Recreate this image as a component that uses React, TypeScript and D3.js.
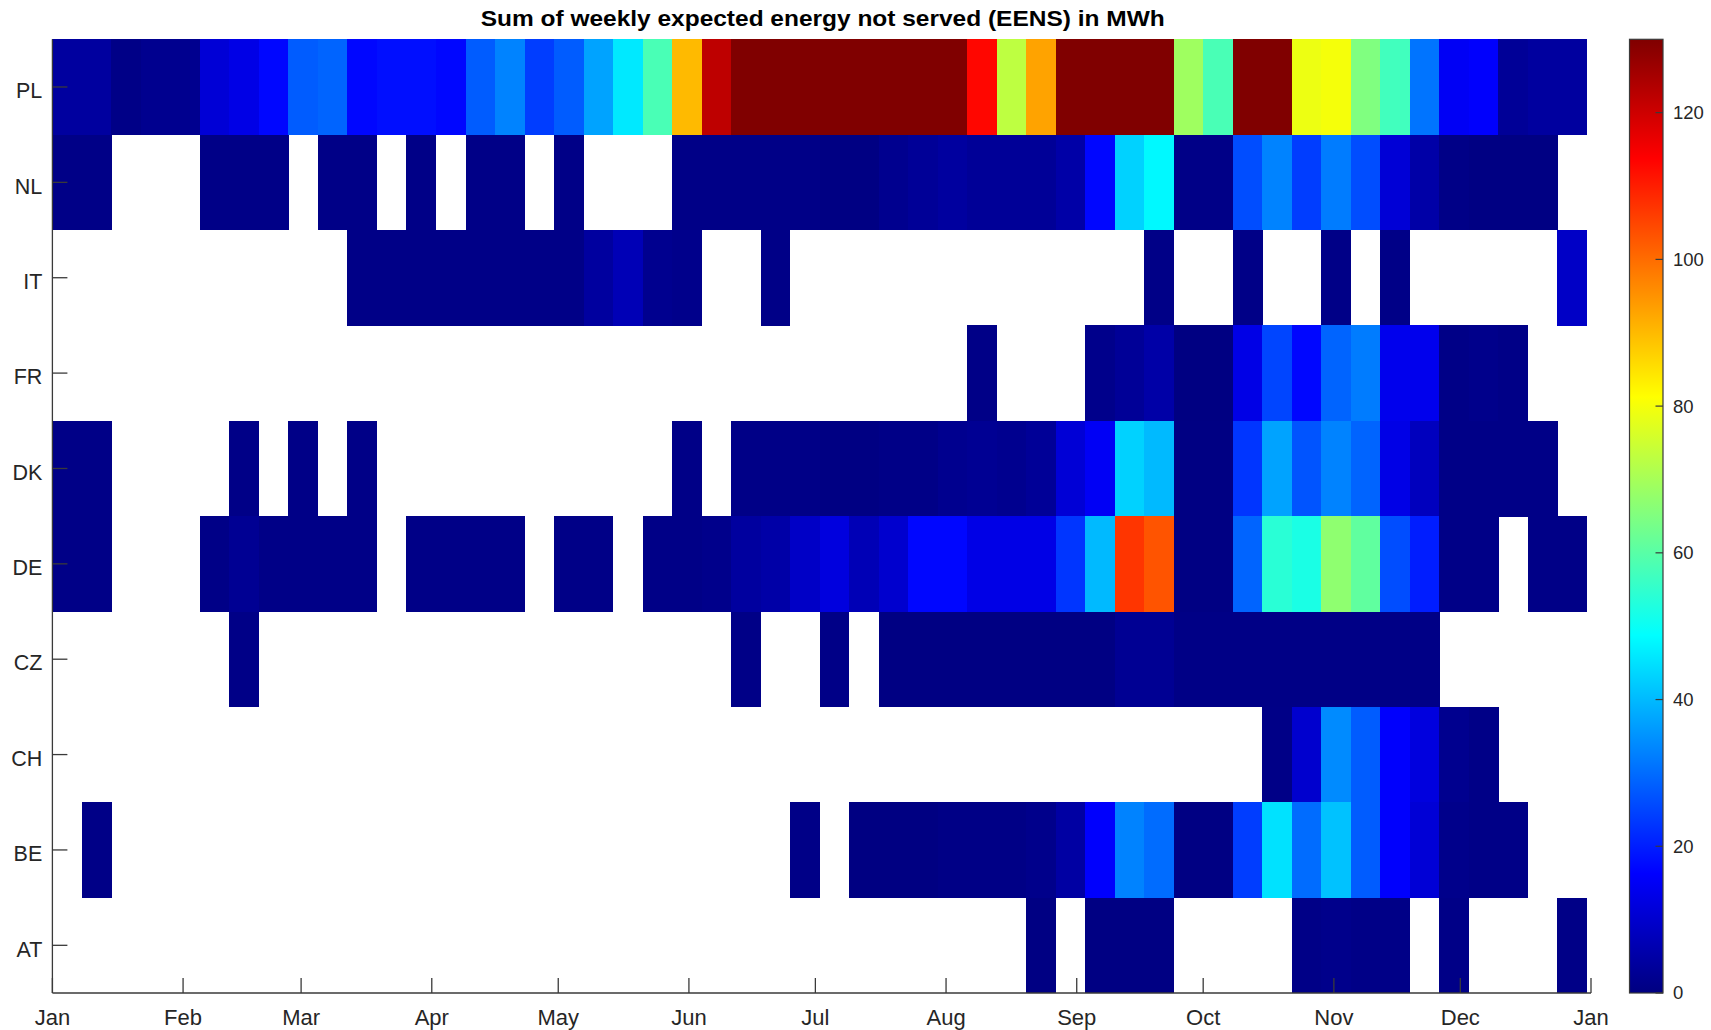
import React from 'react';
import * as d3 from 'd3';

const countries = ['PL', 'NL', 'IT', 'FR', 'DK', 'DE', 'CZ', 'CH', 'BE', 'AT'];
const _ = null;

// weekly EENS (MWh), 52 weeks, null = no value
const PL = [4, 4, 1, 2, 2, 11, 13, 17, 28, 29, 17, 18, 18, 17, 28, 33, 24, 28, 37, 46, 58, 90, 122, 130, 130, 130, 130, 130, 130, 130, 130, 113, 73, 93, 130, 130, 130, 130, 69, 58, 130, 130, 79, 80, 65, 57, 31, 15, 16, 3, 4, 4];
const NL = [1, 1, _, _, _, 1, 1, 1, _, 1, 1, _, 1, _, 1, 1, _, 1, _, _, _, 1, 1, 1, 1, 1, 0.5, 0.5, 2, 3, 4, 3, 3, 3, 5, 17, 43, 48, 1, 1, 26, 33, 24, 32, 26, 11, 5, 1, 0.5, 0.5, 0.5, _];
const IT = [_, _, _, _, _, _, _, _, _, _, 1, 1, 1, 1, 1, 1, 1, 1, 4, 7, 2, 1.5, _, _, 1, _, _, _, _, _, _, _, _, _, _, _, _, 1, _, _, 1, _, _, 1, _, 1, _, _, _, _, _, 9];
const FR = [_, _, _, _, _, _, _, _, _, _, _, _, _, _, _, _, _, _, _, _, _, _, _, _, _, _, _, _, _, _, _, 1, _, _, _, 1.5, 3, 5, 0.3, 0.3, 13, 25, 17, 29, 32, 14, 14, 1, 1.5, 1, _, _];
const DK = [1, 1, _, _, _, _, 1, _, 1, _, 1, _, _, _, _, _, _, _, _, _, _, 1, _, 1, 1, 1, 0.5, 0.5, 1, 1, 2, 2.5, 2, 3, 11, 15, 43, 40, 0.5, 0.5, 23, 37, 27, 33, 29, 13, 8, 1, 1, 1, 1, _];
const DE = [1, 1, _, _, _, 1, 2.5, 1, 1, 1, 1, _, 1, 1, 1, 1, _, 1, 1, _, 1, 1, 1.5, 4, 5, 9, 12, 7, 10, 17, 17, 13, 13, 13, 23, 40, 107, 103, 0.5, 0.5, 29, 54, 52, 67, 61, 26, 20, 1, 1, _, 1, 1];
const CZ = [_, _, _, _, _, _, 1, _, _, _, _, _, _, _, _, _, _, _, _, _, _, _, _, 1, _, _, 1, _, 0.5, 0.5, 0.5, 0.5, 0.5, 0.5, 0.5, 0.5, 2.5, 2.5, 0.8, 0.8, 0.8, 0.8, 0.8, 0.8, 0.8, 0.8, 0.8, _, _, _, _, _];
const CH = [_, _, _, _, _, _, _, _, _, _, _, _, _, _, _, _, _, _, _, _, _, _, _, _, _, _, _, _, _, _, _, _, _, _, _, _, _, _, _, _, _, 1, 10, 34, 28, 16, 12, 2, 1, _, _, _];
const BE = [_, 1, _, _, _, _, _, _, _, _, _, _, _, _, _, _, _, _, _, _, _, _, _, _, _, 1, _, 0.3, 0.3, 0.3, 0.8, 0.8, 0.8, 1.5, 4.5, 16, 33, 30, 0.5, 0.5, 24, 45, 30, 41, 28, 16, 11, 1.5, 1, 1, _, _];
const AT = [_, _, _, _, _, _, _, _, _, _, _, _, _, _, _, _, _, _, _, _, _, _, _, _, _, _, _, _, _, _, _, _, _, 0.5, _, 0.5, 0.5, 0.5, _, _, _, _, 1, 1.5, 1, 1, _, 1, _, _, _, 1];

const colorTicks = [0, 20, 40, 60, 80, 100, 120];
const colorMax = 130;
const title = 'Sum of weekly expected energy not served (EENS) in MWh';

const seriesByCountry: Record<string, (number | null)[]> = { PL, NL, IT, FR, DK, DE, CZ, CH, BE, AT };

function jet(f: number): string {
  const t = Math.max(0, Math.min(1, f));
  const cl = (v: number) => Math.max(0, Math.min(1, v));
  const r = cl(Math.min(4 * t - 1.5, -4 * t + 4.5));
  const g = cl(Math.min(4 * t - 0.5, -4 * t + 3.5));
  const b = cl(Math.min(4 * t + 0.5, -4 * t + 2.5));
  return d3.rgb(r * 255, g * 255, b * 255).formatHex();
}

const W = 1711;
const H = 1030;
const left = 52.4;
const right = 1591;
const top = 39.3;
const bottom = 993;
const cbX0 = 1629.5;
const cbX1 = 1663;
const axisColor = '#3a3a3a';
const textColor = '#262626';
const font = '"Liberation Sans", Arial, Helvetica, sans-serif';

export default function App() {
  const start = new Date(Date.UTC(2015, 0, 1));
  const end = new Date(Date.UTC(2016, 0, 1));
  const x = d3.scaleUtc().domain([start, end]).range([left, right]);
  const y = d3.scaleBand<string>().domain(countries).range([top, bottom]).padding(0);
  const c = d3.scaleLinear().domain([0, colorMax]).range([bottom, top]);
  const monthTicks = d3.utcMonth.range(start, d3.utcDay.offset(end, 1));
  const fmt = d3.utcFormat('%b');

  const cells: JSX.Element[] = [];
  countries.forEach((cn) => {
    const vals = seriesByCountry[cn];
    vals.forEach((v, i) => {
      if (v === null) return;
      const x0 = x(d3.utcDay.offset(start, 7 * i));
      const x1 = x(d3.utcDay.offset(start, 7 * (i + 1)));
      cells.push(
        <rect key={cn + i} x={x0} y={y(cn)} width={x1 - x0 + 0.4} height={y.bandwidth() + 0.4}
          fill={jet(v / colorMax)} />
      );
    });
  });

  const gradStops = d3.range(0, 1.0001, 1 / 64);
  const tickLen = 15;

  return (
    <svg width={W} height={H} style={{ position: 'absolute', left: 0, top: 0, display: 'block', background: '#fff' }}
      fontFamily={font}>
      <defs>
        <linearGradient id="jetGrad" x1="0" y1="1" x2="0" y2="0">
          {gradStops.map((s) => (
            <stop key={s} offset={s} stopColor={jet(s)} />
          ))}
        </linearGradient>
      </defs>
      <text x={(left + right) / 2 + 1} y={26} textAnchor="middle" fontSize={21.5} fontWeight="bold" fill="#000"
        textLength={684} lengthAdjust="spacingAndGlyphs">
        {title}
      </text>
      <g shapeRendering="crispEdges">{cells}</g>
      {/* y axis */}
      <g>
        <line x1={left} x2={left} y1={top} y2={bottom} stroke={axisColor} strokeWidth={1.3} />
        {countries.map((cn) => {
          const yc = (y(cn) as number) + y.bandwidth() / 2;
          return (
            <g key={cn}>
              <line x1={left} x2={left + tickLen} y1={yc} y2={yc} stroke={axisColor} strokeWidth={1.3} />
              <text x={42.3} y={yc + 3.7} dy="0.35em" textAnchor="end" fontSize={21.5} fill={textColor}>{cn}</text>
            </g>
          );
        })}
      </g>
      {/* x axis */}
      <g>
        <line x1={left} x2={right} y1={bottom} y2={bottom} stroke={axisColor} strokeWidth={1.3} />
        {monthTicks.map((d, i) => (
          <g key={i}>
            <line x1={x(d)} x2={x(d)} y1={bottom} y2={bottom - tickLen} stroke={axisColor} strokeWidth={1.3} />
            <text x={x(d)} y={1017} dy="0.35em" textAnchor="middle" fontSize={22} fill={textColor}>{fmt(d)}</text>
          </g>
        ))}
      </g>
      {/* colorbar */}
      <g>
        <rect x={cbX0} y={top} width={cbX1 - cbX0} height={bottom - top} fill="url(#jetGrad)" stroke={axisColor} strokeWidth={1.2} />
        {colorTicks.map((t) => (
          <g key={t}>
            <line x1={cbX1} x2={cbX1 - 7.5} y1={c(t)} y2={c(t)} stroke={axisColor} strokeWidth={1.2} />
            <text x={cbX1 + 10} y={c(t)} dy="0.35em" textAnchor="start" fontSize={18.5} fill={textColor}>{t}</text>
          </g>
        ))}
      </g>
    </svg>
  );
}
